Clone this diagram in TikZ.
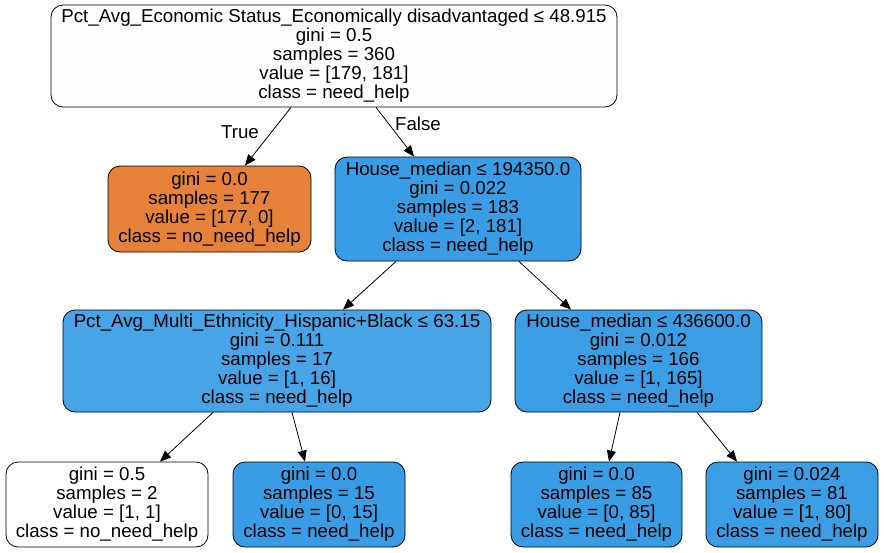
\documentclass[tikz,border=0pt]{standalone}
\usepackage{fontspec}
\setmainfont{Liberation Sans}
\usetikzlibrary{arrows.meta}
\definecolor{orangeC}{HTML}{E58139}
\definecolor{blueA}{HTML}{399DE5}
\definecolor{blueB}{HTML}{47A4E7}
\definecolor{blueC}{HTML}{3B9EE5}
\definecolor{rootC}{HTML}{FEFEFF}
\begin{document}
\begin{tikzpicture}[x=1pt,y=-1pt,
  box/.style={draw=black, line width=0.8pt, rounded corners=12pt, align=center,
    inner sep=0pt, font=\fontsize{18.7}{19}\selectfont},
  edge/.style={draw=black, line width=0.8pt, -{Triangle[length=11pt,width=9pt]}},
  lbl/.style={font=\fontsize{18.7}{19}\selectfont}]
\useasboundingbox (0,0) rectangle (884,552);
\node[box, fill=rootC, minimum width=566pt, minimum height=102pt] (root) at (334,56)
  {Pct\_Avg\_Economic Status\_Economically disadvantaged ≤ 48.915\\gini = 0.5\\samples = 360\\value = [179, 181]\\class = need\_help};
\node[box, fill=orangeC, minimum width=203pt, minimum height=86pt] (lo) at (209.5,209)
  {gini = 0.0\\samples = 177\\value = [177, 0]\\class = no\_need\_help};
\node[box, fill=blueA, minimum width=246pt, minimum height=104pt] (h1) at (458,209)
  {House\_median ≤ 194350.0\\gini = 0.022\\samples = 183\\value = [2, 181]\\class = need\_help};
\node[box, fill=blueB, minimum width=428pt, minimum height=102pt] (pm) at (277,361)
  {Pct\_Avg\_Multi\_Ethnicity\_Hispanic+Black ≤ 63.15\\gini = 0.111\\samples = 17\\value = [1, 16]\\class = need\_help};
\node[box, fill=blueC, minimum width=247pt, minimum height=102pt] (h2) at (638.5,361)
  {House\_median ≤ 436600.0\\gini = 0.012\\samples = 166\\value = [1, 165]\\class = need\_help};
\node[box, fill=white, minimum width=202pt, minimum height=85pt] (l1) at (107,504.5)
  {gini = 0.5\\samples = 2\\value = [1, 1]\\class = no\_need\_help};
\node[box, fill=blueA, minimum width=172pt, minimum height=85pt] (l2) at (319,504.5)
  {gini = 0.0\\samples = 15\\value = [0, 15]\\class = need\_help};
\node[box, fill=blueA, minimum width=171pt, minimum height=85pt] (l3) at (596.5,504.5)
  {gini = 0.0\\samples = 85\\value = [0, 85]\\class = need\_help};
\node[box, fill=blueC, minimum width=172pt, minimum height=85pt] (l4) at (792,504.5)
  {gini = 0.024\\samples = 81\\value = [1, 80]\\class = need\_help};
\draw[edge] ([xshift=-43pt]root.south) -- ([xshift=35.5pt]lo.north);
\draw[edge] ([xshift=42pt]root.south) -- ([xshift=-44pt]h1.north);
\draw[edge] ([xshift=-62pt]h1.south) -- ([xshift=66pt]pm.north);
\draw[edge] ([xshift=61pt]h1.south) -- ([xshift=-67.5pt]h2.north);
\draw[edge] ([xshift=-64pt]pm.south) -- ([xshift=53pt]l1.north);
\draw[edge] ([xshift=15pt]pm.south) -- ([xshift=-14pt]l2.north);
\draw[edge] ([xshift=-18.5pt]h2.south) -- ([xshift=12.5pt]l3.north);
\draw[edge] ([xshift=58.5pt]h2.south) -- ([xshift=-55pt]l4.north);
\node[lbl] (t) at (240,132) {True};
\node[lbl] (f) at (418,124) {False};
\end{tikzpicture}
\end{document}
